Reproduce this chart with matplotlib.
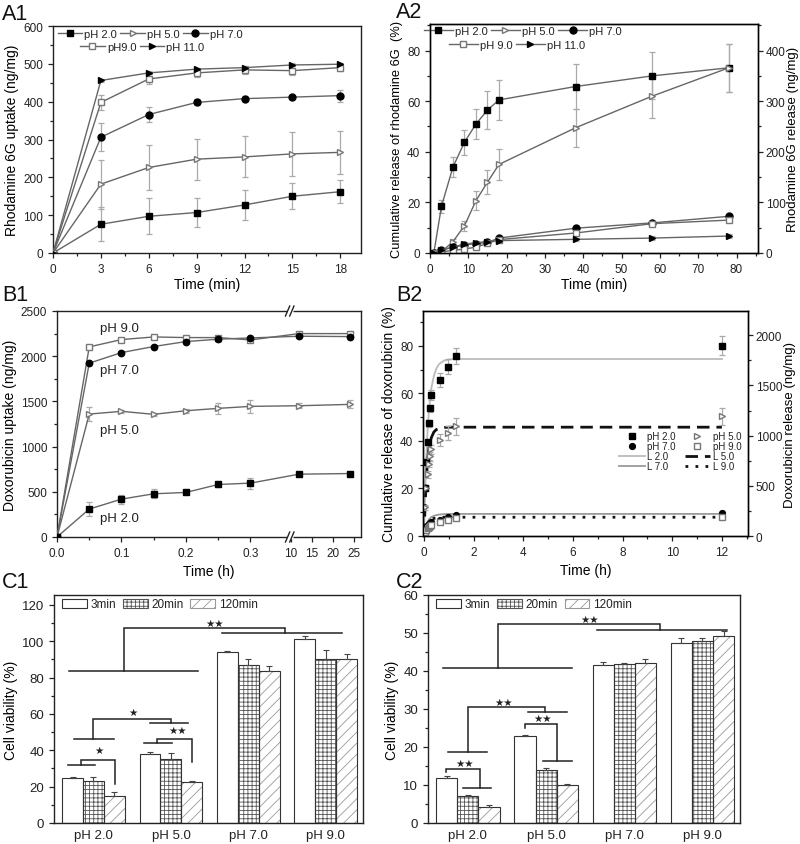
import numpy as np
import matplotlib
matplotlib.use('Agg')
import matplotlib.pyplot as plt
from matplotlib.ticker import MultipleLocator, FixedLocator
from matplotlib.lines import Line2D
from matplotlib.patches import Patch

plt.rcParams['font.family'] = ['Liberation Sans', 'DejaVu Sans']
plt.rcParams['axes.linewidth'] = 1.0
plt.rcParams['hatch.linewidth'] = 0.6
plt.rcParams['xtick.major.size'] = 3.5
plt.rcParams['ytick.major.size'] = 3.5
plt.rcParams['xtick.minor.size'] = 2
plt.rcParams['ytick.minor.size'] = 2
plt.rcParams['text.color'] = '#222222'
plt.rcParams['xtick.color'] = '#222222'
plt.rcParams['ytick.color'] = '#222222'

# ---------------- data ----------------
# A1: rhodamine 6G uptake
a1_time = [0, 3, 6, 9, 12, 15, 18]
a1_ph2 = [0, 76, 97, 107, 127, 150, 162]
a1_ph2_err = [0, 45, 48, 39, 39, 35, 31]
a1_ph5 = [0, 182, 226, 248, 254, 262, 266]
a1_ph5_err = [0, 65, 60, 54, 54, 58, 57]
a1_ph7 = [0, 306, 366, 398, 408, 412, 416]
a1_ph7_err = [0, 37, 19, 8, 6, 6, 16]
a1_ph9 = [0, 398, 460, 476, 484, 482, 490]
a1_ph9_err = [0, 20, 13, 10, 10, 12, 8]
a1_ph11 = [0, 456, 476, 486, 490, 497, 499]
a1_ph11_err = [0, 4, 4, 4, 4, 4, 4]
a1_labels = ['pH 2.0', 'pH 5.0', 'pH 7.0', 'pH9.0', 'pH 11.0']

# A2: rhodamine 6G release
a2_time = [1, 3, 6, 9, 12, 15, 18, 38, 58, 78]
a2_ph2 = [0, 18.5, 34, 43.8, 51, 56.5, 60.5, 65.8, 70, 73.2]
a2_ph2_err = [0, 2.5, 4, 5, 6, 7.5, 7.8, 8.7, 9.3, 9.5]
a2_ph5 = [0, 0.5, 4.5, 10.8, 20.7, 28, 35, 49.5, 62, 73.2]
a2_ph5_err = [0, 0.3, 1, 2, 3.8, 4.8, 6, 7.5, 8.7, 9.5]
a2_ph7 = [0, 1.2, 2.2, 3.2, 3.7, 4.2, 5.9, 9.8, 11.9, 14.5]
a2_ph9 = [0, 0.5, 1.0, 1.6, 2.3, 3.8, 5.3, 7.9, 11.6, 13.0]
a2_ph11 = [0, 1.2, 2.4, 3.5, 4.1, 4.5, 4.9, 5.4, 5.9, 6.7]
a2_small_err = [0, 0.3, 0.3, 0.4, 0.4, 0.4, 0.5, 0.6, 0.7, 0.8]
a2_labels = ['pH 2.0', 'pH 5.0', 'pH 7.0', 'pH 9.0', 'pH 11.0']

# B1: doxorubicin uptake
b1_time = [0, 0.05, 0.1, 0.15, 0.2, 0.25, 0.3, 12, 24]
b1_ph9 = [0, 2103, 2184, 2213, 2206, 2206, 2180, 2250, 2250]
b1_ph9_err = [0, 15, 15, 15, 15, 15, 15, 15, 15]
b1_ph7 = [0, 1923, 2040, 2107, 2162, 2188, 2202, 2221, 2217]
b1_ph7_err = [0, 15, 15, 15, 15, 15, 15, 15, 15]
b1_ph5 = [0, 1360, 1390, 1357, 1397, 1423, 1445, 1452, 1467]
b1_ph5_err = [0, 80, 20, 20, 20, 60, 70, 25, 45]
b1_ph2 = [0, 309, 419, 478, 493, 581, 596, 695, 702]
b1_ph2_err = [0, 80, 50, 50, 20, 30, 60, 15, 15]
b1_labels = ['pH 9.0', 'pH 7.0', 'pH 5.0', 'pH 2.0']
b1_label_y = [2316, 1849, 1187, 213]

# B2: doxorubicin release with fits
b2_time = [0.05, 0.1, 0.15, 0.2, 0.25, 0.3, 0.633, 0.967, 1.3, 12]
b2_ph2 = [20, 31, 39.5, 47.5, 53.7, 59.3, 65.7, 71.3, 75.7, 80]
b2_ph2_err = [1, 1, 1, 1.5, 1.5, 2, 3, 3, 3.5, 4]
b2_ph5 = [12, 20, 26, 30.5, 33.5, 36.5, 40.3, 43.3, 46.2, 50.4]
b2_ph5_err = [1, 1, 1.5, 1.5, 2, 2, 2.5, 3, 3.5, 3.5]
b2_ph7 = [2, 3.5, 4.5, 5, 5.5, 5.8, 6.8, 7.8, 8.8, 9.8]
b2_ph9 = [1.5, 2.5, 3.2, 3.8, 4.3, 4.8, 5.8, 6.6, 7.5, 8.0]
b2_small_err = [0.3, 0.3, 0.3, 0.3, 0.3, 0.4, 0.5, 0.5, 0.5, 0.5]
b2_fit_time = [0, 0.05, 0.1, 0.15, 0.2, 0.3, 0.4, 0.5, 0.6, 0.8, 1.0, 1.3, 12]
b2_fit_l2 = [0, 20, 35, 45.5, 53, 62.5, 67.5, 70.5, 72.3, 73.8, 74.3, 74.5, 74.5]
b2_fit_l5 = [0, 14, 25, 32, 37, 41.5, 43.8, 44.8, 45.3, 45.7, 45.8, 45.8, 45.8]
b2_fit_l7 = [0, 3, 5, 6.2, 7, 8, 8.5, 8.8, 9.0, 9.2, 9.3, 9.3, 9.3]
b2_fit_l9 = [0, 2.3, 4, 5, 6, 7, 7.4, 7.6, 7.75, 7.9, 7.9, 7.9, 7.9]

# C: cell viability
c_groups = ['pH 2.0', 'pH 5.0', 'pH 7.0', 'pH 9.0']
c_times = ['3min', '20min', '120min']
c1_3min = [24.5, 38.0, 94.3, 101.5]
c1_3min_err = [0.7, 1.0, 0.5, 1.5]
c1_20min = [23.0, 35.5, 87.0, 90.0]
c1_20min_err = [2.3, 3.0, 3.0, 5.0]
c1_120min = [15.0, 22.5, 83.5, 90.5]
c1_120min_err = [2.0, 0.5, 2.8, 2.5]
c2_3min = [11.8, 22.8, 41.5, 47.5]
c2_3min_err = [0.7, 0.3, 0.8, 1.2]
c2_20min = [7.2, 14.0, 41.8, 47.8]
c2_20min_err = [0.2, 0.5, 0.2, 1.0]
c2_120min = [4.2, 10.0, 42.0, 49.2]
c2_120min_err = [0.5, 0.3, 1.2, 1.3]

# significance brackets (group-index x, value y)
c1_brackets = [
    ([[(-0.32, 83.7), (1.345, 83.7)], [(0.40, 83.7), (0.40, 107.5), (2.478, 107.5), (2.478, 104.8)],
      [(1.663, 104.8), (3.207, 104.8)]], '★★', (1.569, 110.3)),
    ([[(-0.246, 46.5), (0.26, 46.5)], [(-0.01, 46.5), (-0.01, 57.5), (0.997, 57.5), (0.997, 55.3)],
      [(0.732, 55.3), (1.216, 55.3)]], '★', (0.505, 61.0)),
    ([[(0.655, 43.8), (1.019, 43.8)], [(0.826, 43.8), (0.826, 46.5), (1.268, 46.5), (1.268, 33.7)]],
     '★★', (1.084, 51.3)),
    ([[(-0.334, 31.9), (0.021, 31.9)], [(-0.163, 31.9), (-0.163, 34.8), (0.279, 34.8), (0.279, 21.4)]],
     '★', (0.073, 40.3)),
]
c2_brackets = [
    ([[(-0.315, 40.9), (1.334, 40.9)], [(0.387, 40.9), (0.387, 52.5), (2.457, 52.5), (2.457, 50.9)],
      [(1.65, 50.9), (3.31, 50.9)]], '★★', (1.557, 53.7)),
    ([[(-0.256, 18.8), (0.25, 18.8)], [(0.0, 18.8), (0.0, 30.6), (0.987, 30.6), (0.987, 29.1)],
      [(0.765, 29.1), (1.27, 29.1)]], '★★', (0.456, 31.9)),
    ([[(-0.277, 13.3), (-0.277, 14.2), (0.152, 14.2), (0.152, 9.2)], [(-0.058, 9.2), (0.302, 9.2)]],
     '★★', (-0.04, 15.7)),
    ([[(0.73, 24.9), (0.73, 26.05), (1.141, 26.05), (1.141, 16.2)], [(0.957, 16.2), (1.33, 16.2)]],
     '★★', (0.957, 27.6)),
]

# ---------------- styles ----------------
LINE_C = '#666666'
ERR_C = '#aaaaaa'
OPEN_EC = '#777777'
STY = {
    'sq': dict(marker='s', mfc='black', mec='black'),
    'otri': dict(marker='>', mfc='white', mec=OPEN_EC),
    'circ': dict(marker='o', mfc='black', mec='black'),
    'osq': dict(marker='s', mfc='white', mec=OPEN_EC),
    'tri': dict(marker='>', mfc='black', mec='black'),
}
TICK_FS = 8.5
LAB_FS = 10

W, H = 800, 845
fig = plt.figure(figsize=(8, 8.45), dpi=100)


def axes_px(x0, y0, x1, y1):
    return fig.add_axes([x0 / W, 1 - y1 / H, (x1 - x0) / W, (y1 - y0) / H])


def style_ax(ax, fs=TICK_FS):
    ax.tick_params(which='both', direction='out', labelsize=fs, top=False, right=False, width=0.9)
    for s in ax.spines.values():
        s.set_color('#222222')


def series(ax, x, y, err, sty, ms=5, zorder=3):
    ax.errorbar(x, y, yerr=err, color=LINE_C, lw=1.0, ms=ms, ecolor=ERR_C, elinewidth=0.9,
                capsize=2.5, capthick=0.9, zorder=zorder, **STY[sty])


def handle(sty, ms=5):
    return Line2D([], [], color=LINE_C, lw=1.0, ms=ms, **STY[sty])


def panel_label(txt, x, y):
    fig.text(x / W, 1 - y / H, txt, fontsize=15.5, va='baseline', ha='left', color='#111111')


# ---------------- A1 ----------------
ax = axes_px(53, 27, 361, 254)
style_ax(ax)
stys = ['sq', 'otri', 'circ', 'osq', 'tri']
for yv, ev, st in zip([a1_ph2, a1_ph5, a1_ph7, a1_ph9, a1_ph11],
                      [a1_ph2_err, a1_ph5_err, a1_ph7_err, a1_ph9_err, a1_ph11_err], stys):
    series(ax, a1_time, yv, ev, st)
ax.set_xlim(0, 19.3)
ax.set_ylim(0, 600)
ax.xaxis.set_major_locator(FixedLocator([0, 3, 6, 9, 12, 15, 18]))
ax.xaxis.set_minor_locator(MultipleLocator(1.5))
ax.yaxis.set_major_locator(MultipleLocator(100))
ax.yaxis.set_minor_locator(MultipleLocator(50))
ax.set_xlabel('Time (min)', fontsize=LAB_FS, labelpad=2)
ax.set_ylabel('Rhodamine 6G uptake (ng/mg)', fontsize=LAB_FS, labelpad=3)
lg1 = ax.legend([handle(s) for s in stys[:3]], a1_labels[:3], ncol=3, loc='center',
                bbox_to_anchor=(0.315, 0.965), frameon=False, fontsize=8, handlelength=2.2,
                handletextpad=0.2, columnspacing=0.3, borderpad=0, borderaxespad=0)
ax.add_artist(lg1)
ax.legend([handle(s) for s in stys[3:]], a1_labels[3:], ncol=2, loc='center',
          bbox_to_anchor=(0.29, 0.908), frameon=False, fontsize=8, handlelength=2.2,
          handletextpad=0.2, columnspacing=0.3, borderpad=0, borderaxespad=0)
panel_label('A1', 2, 20)

# ---------------- A2 ----------------
ax = axes_px(430, 25, 758, 254)
style_ax(ax)
for yv, ev, st in zip([a2_ph2, a2_ph5, a2_ph7, a2_ph9, a2_ph11],
                      [a2_ph2_err, a2_ph5_err, a2_small_err, a2_small_err, a2_small_err], stys):
    series(ax, a2_time, yv, ev, st)
ax.set_xlim(0, 85.6)
ax.set_ylim(0, 90.5)
ax.xaxis.set_major_locator(MultipleLocator(10))
ax.xaxis.set_minor_locator(MultipleLocator(5))
ax.yaxis.set_major_locator(MultipleLocator(20))
ax.yaxis.set_minor_locator(MultipleLocator(10))
ax.set_xlabel('Time (min)', fontsize=LAB_FS, labelpad=2)
ax.set_ylabel('Cumulative release of rhodamine 6G  (%)', fontsize=9.3, labelpad=3)
lg1 = ax.legend([handle(s) for s in stys[:3]], a2_labels[:3], ncol=3, loc='center',
                bbox_to_anchor=(0.283, 0.969), frameon=False, fontsize=8, handlelength=2.6,
                handletextpad=0.2, columnspacing=0.3, borderpad=0, borderaxespad=0)
ax.add_artist(lg1)
ax.legend([handle(s) for s in stys[3:]], a2_labels[3:], ncol=2, loc='center',
          bbox_to_anchor=(0.265, 0.908), frameon=False, fontsize=8, handlelength=2.6,
          handletextpad=0.2, columnspacing=0.3, borderpad=0, borderaxespad=0)
axr = ax.twinx()
axr.set_ylim(0, 90.5 * 5)
axr.yaxis.set_major_locator(MultipleLocator(100))
axr.yaxis.set_minor_locator(MultipleLocator(50))
axr.tick_params(which='both', direction='out', labelsize=TICK_FS, width=0.9, pad=2)
axr.set_ylabel('Rhodamine 6G release (ng/mg)', fontsize=9.5, labelpad=1)
panel_label('A2', 396, 18)

# ---------------- B1 (broken axis) ----------------
SEG_A = 0.358   # end of first segment (h)
SEG_B = 9.36    # start of second segment (h)
K1 = 645.0      # px per h first segment
K2 = 4.24       # px per h second segment
EPS = 1e-3


def fwd(x):
    x = np.asarray(x, dtype=float)
    u1 = x * K1
    u2 = SEG_A * K1 + (x - SEG_A) * EPS
    u3 = SEG_A * K1 + (SEG_B - SEG_A) * EPS + (x - SEG_B) * K2
    return np.where(x <= SEG_A, u1, np.where(x < SEG_B, u2, u3))


def inv(u):
    u = np.asarray(u, dtype=float)
    ua = SEG_A * K1
    ub = ua + (SEG_B - SEG_A) * EPS
    return np.where(u <= ua, u / K1, np.where(u < ub, SEG_A + (u - ua) / EPS, SEG_B + (u - ub) / K2))


ax = axes_px(57, 312, 361, 538)
style_ax(ax)
ax.set_xscale('function', functions=(fwd, inv))
for yv, ev, st in zip([b1_ph9, b1_ph7, b1_ph5, b1_ph2],
                      [b1_ph9_err, b1_ph7_err, b1_ph5_err, b1_ph2_err], ['osq', 'circ', 'otri', 'sq']):
    series(ax, b1_time, yv, ev, st, ms=4.6)
XMAX_B1 = 26.6
ax.set_xlim(0, XMAX_B1)
ax.set_ylim(0, 2500)
ax.xaxis.set_major_locator(FixedLocator([0, 0.1, 0.2, 0.3, 10, 15, 20, 25]))
ax.xaxis.set_minor_locator(FixedLocator([0.05, 0.15, 0.25]))
ax.set_xticklabels(['0.0', '0.1', '0.2', '0.3', '10', '15', '20', '25'])
ax.yaxis.set_major_locator(MultipleLocator(500))
ax.yaxis.set_minor_locator(MultipleLocator(250))
ax.set_xlabel('Time (h)', fontsize=LAB_FS, labelpad=4)
ax.set_ylabel('Doxorubicin uptake (ng/mg)', fontsize=LAB_FS, labelpad=3)
for lab, ly in zip(b1_labels, b1_label_y):
    ax.text(0.067, ly, lab, fontsize=9.5, va='center', ha='left')
fb = float((fwd(SEG_A) - fwd(0)) / (fwd(XMAX_B1) - fwd(0)))
for yb in (0, 1):
    ax.plot([fb - 0.004, fb + 0.018], [yb, yb], transform=ax.transAxes, color='white',
            lw=2.5, clip_on=False, zorder=10, solid_capstyle='butt')
    for dx in (0.0, 0.014):
        ax.plot([fb - 0.008 + dx, fb + 0.006 + dx], [yb - 0.022, yb + 0.022], transform=ax.transAxes,
                color='#222222', lw=1.0, clip_on=False, zorder=11)
panel_label('B1', 2, 301)

# ---------------- B2 ----------------
ax = axes_px(423, 312, 748, 537)
style_ax(ax)
h_l2, = ax.plot(b2_fit_time, b2_fit_l2, color='#bbbbbb', lw=1.3, zorder=2)
h_l5, = ax.plot(b2_fit_time, b2_fit_l5, color='#111111', lw=2.0, ls=(0, (4.5, 2.5)), zorder=2)
h_l7, = ax.plot(b2_fit_time, b2_fit_l7, color='#999999', lw=1.3, zorder=2)
h_l9, = ax.plot(b2_fit_time, b2_fit_l9, color='#111111', lw=2.0, ls=(0, (1, 2.6)), zorder=2)
pts = []
for yv, ev, st in zip([b2_ph2, b2_ph5, b2_ph7, b2_ph9],
                      [b2_ph2_err, b2_ph5_err, b2_small_err, b2_small_err], ['sq', 'otri', 'circ', 'osq']):
    ax.errorbar(b2_time, yv, yerr=ev, ls='none', ms=4.2, ecolor=ERR_C, elinewidth=0.9,
                capsize=2.5, capthick=0.9, zorder=3, **STY[st])
    pts.append(Line2D([], [], ls='none', ms=4.2, **STY[st]))
ax.set_xlim(-0.04, 13.05)
ax.set_ylim(0, 94.7)
ax.xaxis.set_major_locator(MultipleLocator(2))
ax.xaxis.set_minor_locator(MultipleLocator(1))
ax.yaxis.set_major_locator(MultipleLocator(20))
ax.yaxis.set_minor_locator(MultipleLocator(10))
ax.set_xlabel('Time (h)', fontsize=LAB_FS, labelpad=4)
ax.set_ylabel('Cumulative release of doxorubicin (%)', fontsize=LAB_FS, labelpad=3)
ax.legend([pts[0], pts[2], h_l2, h_l7, pts[1], pts[3], h_l5, h_l9],
          ['pH 2.0', 'pH 7.0', 'L 2.0', 'L 7.0', 'pH 5.0', 'pH 9.0', 'L 5.0', 'L 9.0'],
          ncol=2, loc='upper right', bbox_to_anchor=(0.98, 0.465), frameon=False, fontsize=7,
          handlelength=2.6, handletextpad=0.3, columnspacing=0.9, labelspacing=0.0,
          borderpad=0, borderaxespad=0)
axr = ax.twinx()
axr.set_ylim(0, 2242)
axr.yaxis.set_major_locator(MultipleLocator(500))
axr.yaxis.set_minor_locator(MultipleLocator(250))
axr.tick_params(which='both', direction='out', labelsize=TICK_FS, width=0.9, pad=2)
axr.set_ylabel('Doxorubicin release (ng/mg)', fontsize=9.5, labelpad=1)
panel_label('B2', 396, 301)

# ---------------- C panels ----------------
HATCHES = ['', '++++', '///']
HATCH_COL = ['#333333', '#555555', '#999999']
BW = 0.27


def cpanel(ax, vals, errs, brackets, ylim, major, minor):
    style_ax(ax, fs=9.5)
    xg = np.arange(len(c_groups))
    for k in range(3):
        pos = xg + (k - 1) * BW
        ax.bar(pos, vals[k], BW, color='white', edgecolor=HATCH_COL[k], hatch=HATCHES[k], linewidth=0,
               zorder=2)
        ax.bar(pos, vals[k], BW, fill=False, edgecolor='#333333', linewidth=0.8, zorder=3)
        ax.errorbar(pos, vals[k], yerr=[np.zeros(len(xg)), errs[k]], fmt='none', ecolor='#444444',
                    elinewidth=0.8, capsize=2, capthick=0.8, zorder=4)
    for segs, txt, (tx, ty) in brackets:
        for seg in segs:
            xs = [p[0] for p in seg]
            ys = [p[1] for p in seg]
            ax.plot(xs, ys, color='#222222', lw=1.1, zorder=5, solid_joinstyle='miter')
        ax.text(tx, ty, txt, fontsize=7.5, ha='center', va='center', family=['DejaVu Sans'], zorder=5)
    ax.set_xlim(-0.51, 3.48)
    ax.set_ylim(*ylim)
    ax.set_xticks(xg)
    ax.set_xticklabels(c_groups)
    ax.tick_params(axis='x', which='both', length=0, pad=4)
    ax.yaxis.set_major_locator(MultipleLocator(major))
    ax.yaxis.set_minor_locator(MultipleLocator(minor))
    ax.set_ylabel('Cell viability (%)', fontsize=LAB_FS, labelpad=3)
    hs = [Patch(facecolor='white', edgecolor=HATCH_COL[k] if k else '#333333', hatch=HATCHES[k], lw=0.8)
          for k in range(3)]
    ax.legend(hs, c_times, ncol=3, loc='upper left', bbox_to_anchor=(0.025, 0.985), frameon=False,
              fontsize=8.5, handlelength=2.1, handleheight=0.75, handletextpad=0.3, columnspacing=0.6,
              borderpad=0, borderaxespad=0)


ax = axes_px(54, 596, 363, 824)
cpanel(ax, [c1_3min, c1_20min, c1_120min], [c1_3min_err, c1_20min_err, c1_120min_err],
       c1_brackets, (0, 125.5), 20, 10)
panel_label('C1', 2, 588)

ax = axes_px(428, 596, 740, 824)
cpanel(ax, [c2_3min, c2_20min, c2_120min], [c2_3min_err, c2_20min_err, c2_120min_err],
       c2_brackets, (0, 60), 10, 5)
panel_label('C2', 396, 588)

fig.savefig('out.png', dpi=100)
